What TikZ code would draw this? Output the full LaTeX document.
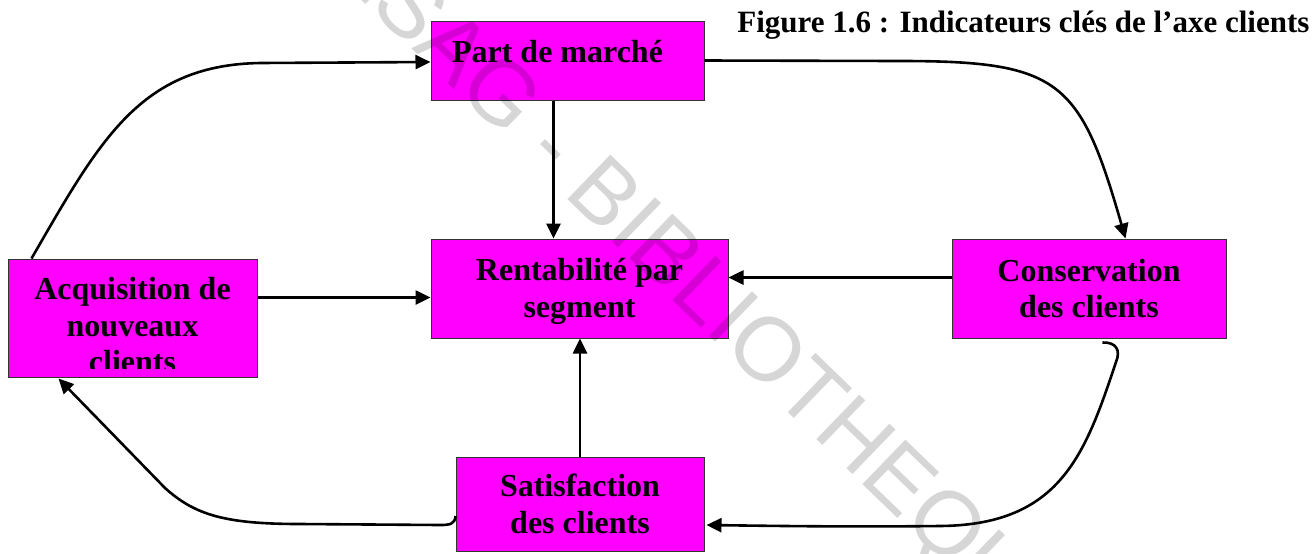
\documentclass[tikz,border=0pt]{standalone}
\usepackage{fontspec}
\setmainfont{Liberation Serif}
\newfontfamily\wmfont{Liberation Sans}
\usetikzlibrary{arrows.meta,calc}
\definecolor{boxfill}{RGB}{255,0,255}

\begin{document}
\begin{tikzpicture}[x=0.5pt,y=-0.5pt,
  boxtext/.style={font=\fontsize{16}{18.25}\selectfont\bfseries, align=center},
  box/.style={draw=black!80, line width=0.5pt, fill=boxfill, inner sep=0pt, boxtext},
  link/.style={line width=1.3pt, -{Triangle[length=7.5pt,width=7pt]}},
  watermark/.style={text=black, opacity=0.16, font=\wmfont\fontsize{45}{45}\selectfont}
  ]
\useasboundingbox (0,0) rectangle (1314,553);

% indicator boxes
\node[box, minimum width=136.5pt, minimum height=39.5pt, text height=12pt, text depth=10.5pt]
  (pdm) at (567.5,60.5) {Part de marché\hspace*{10pt}};
\node[box, minimum width=148.5pt, minimum height=49.5pt] (rent) at (579.5,288.5)
  {\rule{0pt}{14pt}Rentabilité par\\segment};
\node[box, minimum width=124.5pt, minimum height=59pt] (acq) at (132.5,318) {};
\node[box, minimum width=137pt, minimum height=49.5pt] (cons) at (1089,288.5)
  {Conservation\\des clients};
\node[box, minimum width=124pt, minimum height=47pt] (sat) at (580,504)
  {Satisfaction\\des clients};

% the third line of this box overflows and is cut off
\begin{scope}
  \clip (acq.north west) rectangle ($(acq.south east)+(0,-9)$);
  \node[boxtext, inner sep=0pt, anchor=north] (acqtext) at (132.5,277)
    {Acquisition de\\nouveaux\\clients};
\end{scope}

% title
\node[anchor=base west, inner sep=0pt, font=\fontsize{15.5}{18}\selectfont\bfseries]
  (title) at (737,32) {Figure 1.6 : Indicateurs clés de l’axe clients};

% connector end points
\coordinate (a1) at ($(acq.north west)+(24,0)$);
\coordinate (b1) at ($(pdm.west)+(0,1.5)$);
\coordinate (a2) at (pdm.east);
\coordinate (b2) at ($(cons.north west)+(174,0)$);
\coordinate (a3) at ($(cons.south west)+(151,4)$);
\coordinate (b3) at ($(sat.east)+(2,21)$);
\coordinate (a4) at ($(acq.north east)+(0,39)$);
\coordinate (a5) at ($(cons.north west)+(0,39)$);
\coordinate (a7) at ($(pdm.south west)+(123,0)$);
\coordinate (b7) at ($(rent.north west)+(123,0)$);
\coordinate (a8) at ($(sat.west)+(0,12)$);
\coordinate (b8) at ($(acq.south west)+(51,1)$);

% connectors
\draw[link] (a1) .. controls (100,140) and (140,65) .. (260,63) -- (b1);
\draw[link] (a2) -- (900,61) .. controls (1060,61) and (1080,80) .. (b2);
\draw[link] (a7) -- (b7);
\draw[link] (a4) -- (a4 -| rent.west);
\draw[link] (a5) -- (a5 -| rent.east);
\draw[link] (sat.north) -- (sat.north |- rent.south);
\draw[link] (a3) .. controls (1116,342) and (1121,350) .. (1116,362)
  .. controls (1085,455) and (1060,525) .. (940,526)
  .. controls (850,527) and (780,526) .. (b3);
\draw[link] (a8) .. controls (455,524) and (450,525) .. (440,525) -- (300,524)
  .. controls (225,524) and (195,515) .. (165,488) -- (b8);

% library stamp across the page
\node[watermark, rotate=-44] (stamp) at (676,272) {CESAG - BIBLIOTHEQUE};
\end{tikzpicture}
\end{document}
